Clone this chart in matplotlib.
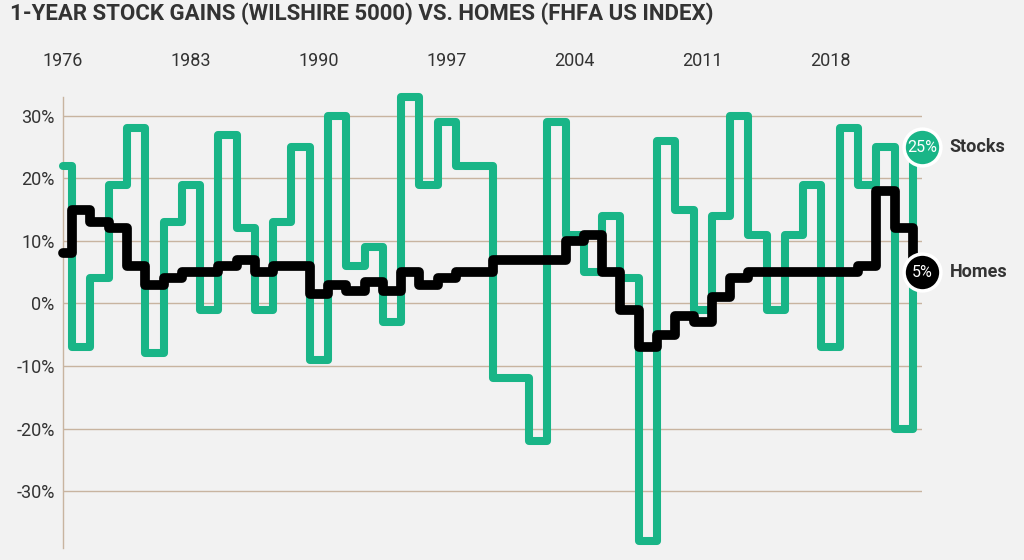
import matplotlib
matplotlib.use("Agg")
import matplotlib.pyplot as plt

plt.rcParams['font.family'] = ['Roboto', 'DejaVu Sans']

years = list(range(1976, 2024))
stocks = [22, -7, 4, 19, 28, -8, 13, 19, -1, 27,
          12, -1, 13, 25, -9, 30, 6, 9, -3, 33,
          19, 29, 22, 22, -12, -12, -22, 29, 11, 5,
          14, 4, -38, 26, 15, -1, 14, 30, 11, -1,
          11, 19, -7, 28, 19, 25, -20, 25]
homes = [8, 15, 13, 12, 6, 3, 4, 5, 5, 6,
         7, 5, 6, 6, 1.5, 3, 2, 3.5, 2, 5,
         3, 4, 5, 5, 7, 7, 7, 7, 10, 11,
         5, -1, -7, -5, -2, -3, 1, 4, 5, 5,
         5, 5, 5, 5, 6, 18, 12, 5]
xtick_years = [1976, 1983, 1990, 1997, 2004, 2011, 2018]
ytick_vals = [30, 20, 10, 0, -10, -20, -30]
series_names = ["Stocks", "Homes"]
title = "1-YEAR STOCK GAINS (WILSHIRE 5000) VS. HOMES (FHFA US INDEX)"

BG = '#f2f2f2'
GREEN = '#19b587'
BLACK = '#000000'
GRID = '#c8b4a0'
TEXT = '#333333'

W, H = 1024, 560
fig = plt.figure(figsize=(W / 100, H / 100), dpi=100, facecolor=BG)
left_px, right_px, top_px, bot_px = 63, 922, 96.7, 548
ax = fig.add_axes([left_px / W, (H - bot_px) / H, (right_px - left_px) / W, (bot_px - top_px) / H])
ax.set_facecolor(BG)
ax.set_xlim(1976, 2023)
ax.set_ylim(-39.1, 33.05)

for s in ['top', 'right', 'bottom']:
    ax.spines[s].set_visible(False)
ax.spines['left'].set_color(GRID)
ax.spines['left'].set_linewidth(1.0)

ax.set_yticks(ytick_vals)
ax.set_yticklabels([f"{v}%" for v in ytick_vals])
ax.yaxis.grid(True, color=GRID, linewidth=1.0)
ax.set_axisbelow(True)
ax.tick_params(axis='y', length=0, pad=6, labelsize=13, labelcolor=TEXT)

ax.xaxis.tick_top()
ax.set_xticks(xtick_years)
ax.set_xticklabels([str(y) for y in xtick_years])
ax.tick_params(axis='x', length=0, pad=19, labelsize=13, labelcolor=TEXT)

ax.plot(years, stocks, drawstyle='steps-mid', color=GREEN, lw=5.8,
        solid_joinstyle='round', solid_capstyle='round', clip_on=False, zorder=3)
ax.plot(years, homes, drawstyle='steps-mid', color=BLACK, lw=7.0,
        solid_joinstyle='round', solid_capstyle='round', clip_on=False, zorder=4)

for vals, col, name in [(stocks, GREEN, series_names[0]), (homes, BLACK, series_names[1])]:
    ax.plot(years[-1], vals[-1], 'o', ms=26.5, mfc=col, mec='white', mew=2.5,
            clip_on=False, zorder=6)
    ax.text(years[-1], vals[-1], f"{vals[-1]:g}%", color='white', ha='center', va='center',
            fontsize=11.5, zorder=7)
    ax.annotate(name, xy=(years[-1], vals[-1]), xytext=(20, 0), textcoords='offset points',
                ha='left', va='center', fontsize=13, fontweight='bold', color=TEXT,
                annotation_clip=False)

fig.text(10 / W, 1 - 13.5 / H, title, ha='left', va='center', fontsize=16,
         fontweight='bold', color=TEXT)

fig.savefig('out.png', dpi=100, facecolor=BG)
